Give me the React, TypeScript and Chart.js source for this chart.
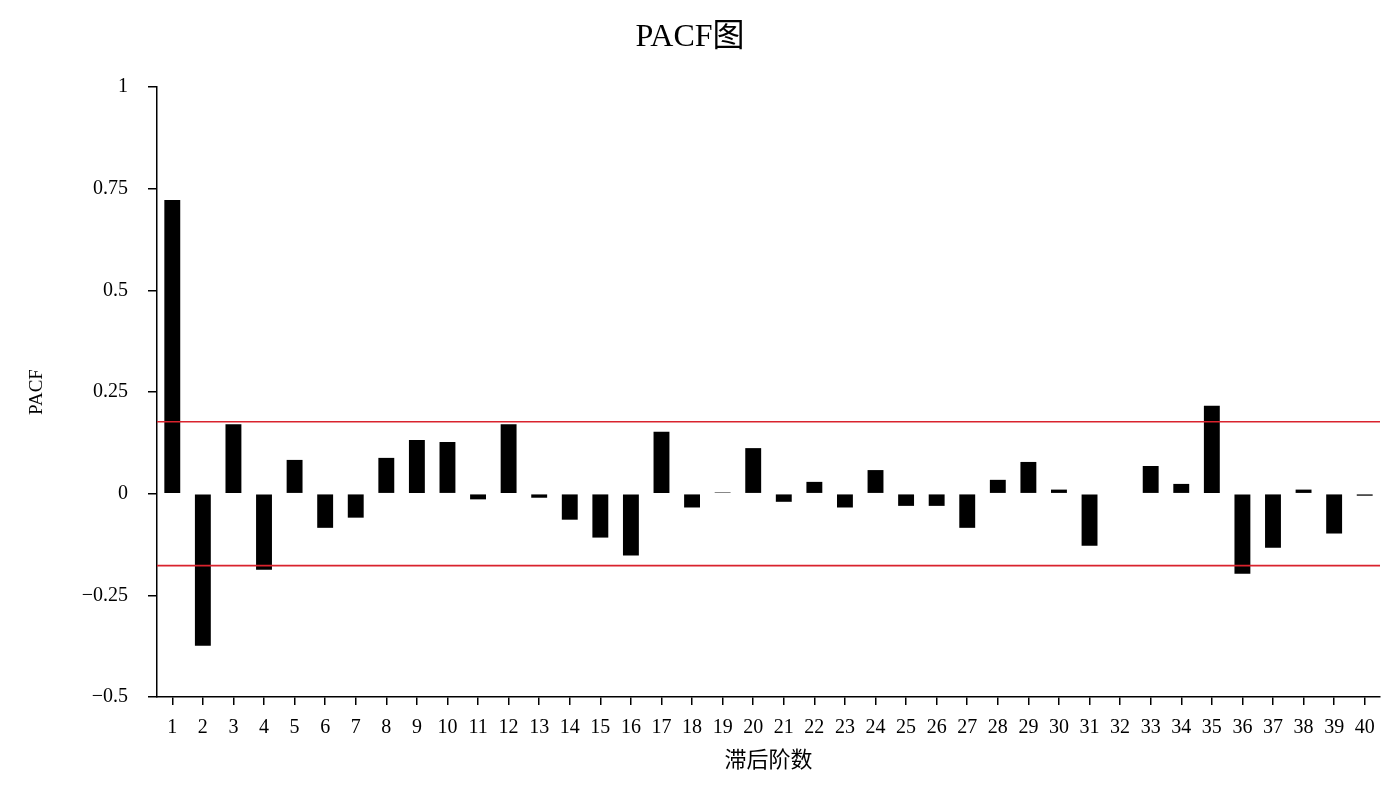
import React, { useEffect, useRef } from "react";
import { Chart, registerables } from "chart.js";

Chart.register(...registerables);

const lags = Array.from({ length: 40 }, (_, i) => String(i + 1));
const pacfValues = [
  0.722, -0.374, 0.171, -0.187, 0.083, -0.084, -0.059, 0.088, 0.132, 0.127,
  -0.014, 0.171, -0.01, -0.064, -0.108, -0.152, 0.152, -0.034, 0.003, 0.112,
  -0.02, 0.029, -0.034, 0.058, -0.03, -0.03, -0.084, 0.034, 0.078, 0.01,
  -0.128, 0, 0.068, 0.024, 0.216, -0.197, -0.133, 0.01, -0.098, -0.005,
];
const confBound = 0.177;
const yTicks = [-0.5, -0.25, 0, 0.25, 0.5, 0.75, 1];

const LATIN = "'Liberation Serif', 'DejaVu Serif', 'Noto Sans CJK SC', serif";
const CJK = "'Liberation Serif', 'Noto Sans CJK SC', serif";

const confPlugin = {
  id: "confLines",
  afterDatasetsDraw(chart: any) {
    const { ctx, chartArea, scales } = chart;
    const y = scales.y;
    ctx.save();
    ctx.strokeStyle = "#d9232d";
    ctx.lineWidth = 1.6;
    [confBound, -confBound].forEach((v) => {
      const py = y.getPixelForValue(v);
      ctx.beginPath();
      ctx.moveTo(chartArea.left, py);
      ctx.lineTo(chartArea.right, py);
      ctx.stroke();
    });
    ctx.restore();
  },
};

export default function App() {
  const ref = useRef<HTMLCanvasElement | null>(null);
  useEffect(() => {
    document.body.style.margin = "0";
    const canvas = ref.current!;
    const chart = new Chart(canvas, {
      type: "bar",
      data: {
        labels: lags,
        datasets: [
          {
            label: "PACF",
            data: pacfValues,
            backgroundColor: "#000000",
            borderWidth: 0,
            barPercentage: 0.52,
            categoryPercentage: 1,
          },
        ],
      },
      options: {
        responsive: false,
        animation: false,
        layout: { padding: { left: 0, right: 20, top: 0, bottom: 0 } },
        plugins: {
          legend: { display: false },
          tooltip: { enabled: false },
          title: {
            display: true,
            text: "PACF图",
            color: "#000",
            font: { family: CJK, size: 32, weight: "normal" },
            padding: { top: 18, bottom: 30.6 },
          },
        },
        scales: {
          x: {
            offset: true,
            grid: {
              display: true,
              drawOnChartArea: false,
              drawTicks: true,
              tickLength: 8,
              color: "#000",
              lineWidth: 1.5,
              offset: false,
            },
            border: { display: true, color: "#000", width: 1.5 },
            ticks: {
              color: "#000",
              font: { family: LATIN, size: 20 },
              padding: 11,
              maxRotation: 0,
              autoSkip: false,
            },
            title: {
              display: true,
              text: "滞后阶数",
              color: "#000",
              font: { family: CJK, size: 22 },
              padding: { top: 0, bottom: 26 },
            },
            afterFit(scale: any) {
              scale.height = 103;
            },
          },
          y: {
            min: -0.5,
            max: 1,
            grid: {
              display: true,
              drawOnChartArea: false,
              drawTicks: true,
              tickLength: 9,
              color: "#000",
              lineWidth: 1.5,
            },
            border: { display: true, color: "#000", width: 1.5 },
            afterBuildTicks(scale: any) {
              scale.ticks = yTicks.map((v) => ({ value: v }));
            },
            ticks: {
              color: "#000",
              font: { family: LATIN, size: 20 },
              padding: 20,
              callback: (v: any) => {
                const n = Number(v);
                const s = String(Math.abs(n));
                return n < 0 ? "\u2212" + s : s;
              },
            },
            title: {
              display: true,
              text: "PACF",
              color: "#000",
              font: { family: LATIN, size: 19 },
              padding: { top: 26, bottom: 0 },
            },
            afterFit(scale: any) {
              scale.width = 157;
            },
          },
        },
      },
      plugins: [confPlugin],
    });
    return () => chart.destroy();
  }, []);
  return (
    <div style={{ width: 1400, height: 800, background: "#fff" }}>
      <canvas ref={ref} width={1400} height={800} style={{ display: "block" }} />
    </div>
  );
}
